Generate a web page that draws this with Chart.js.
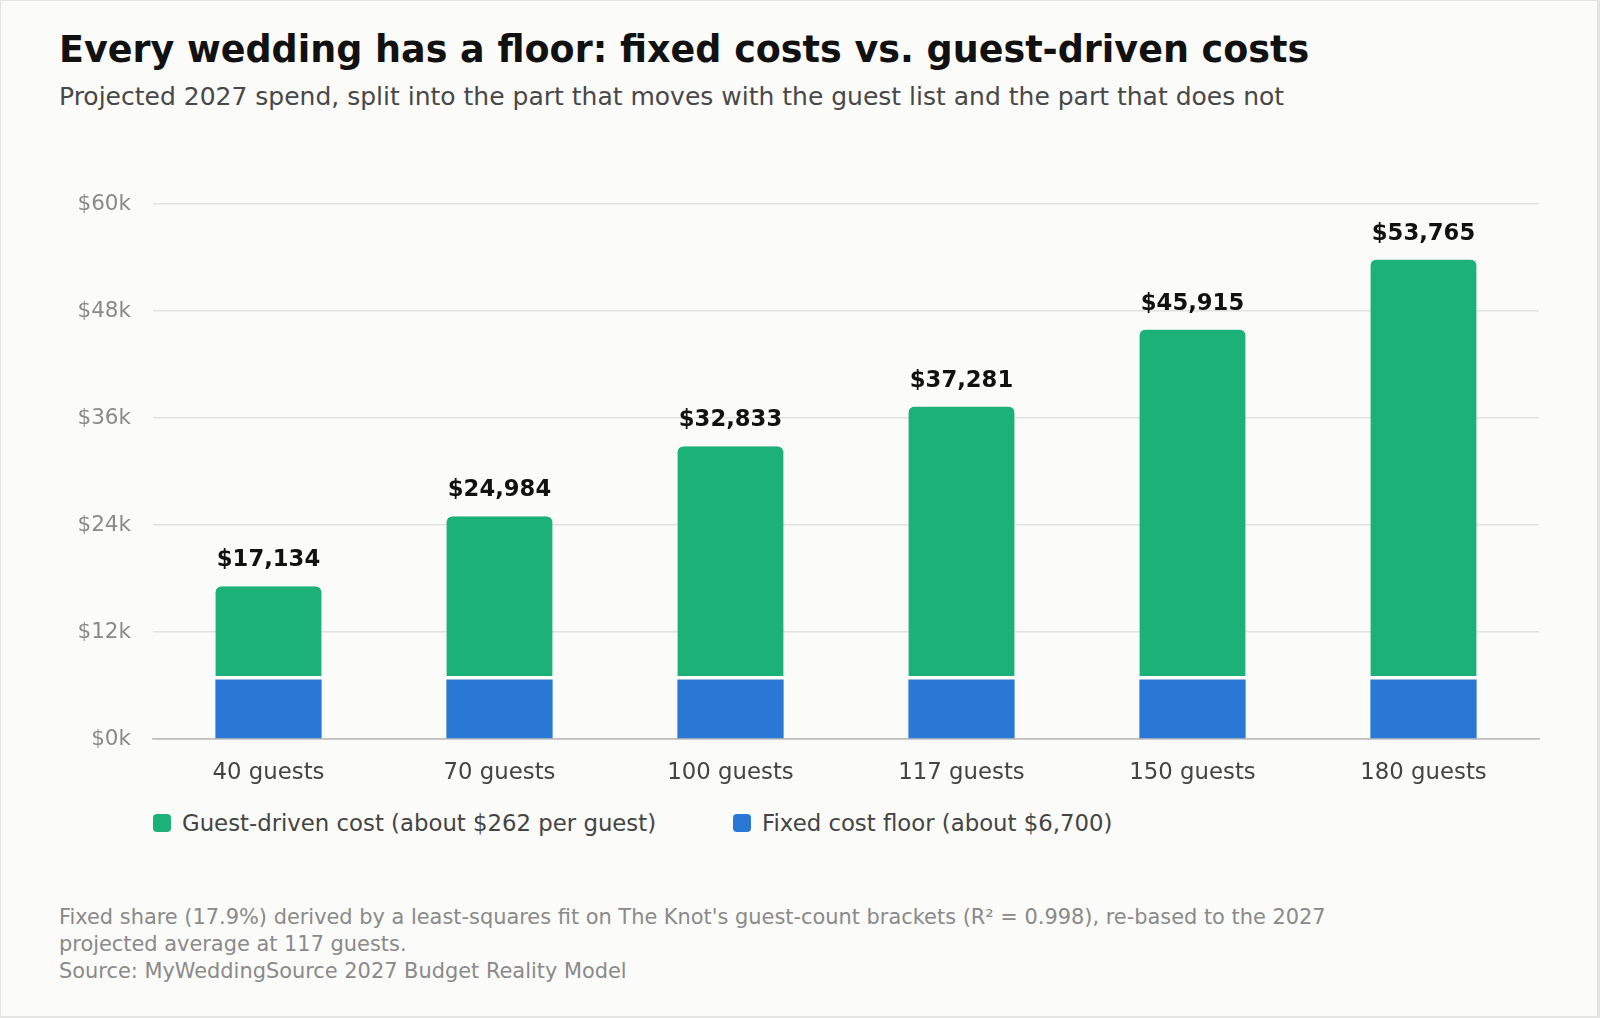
<!DOCTYPE html>
<html>
<head>
<meta charset="utf-8">
<script src="https://cdn.jsdelivr.net/npm/chart.js@4.4.1/dist/chart.umd.min.js"></script>
<style>
  html, body { margin: 0; padding: 0; }
  body { width: 1600px; height: 1018px; background: #e4e4e2; font-family: "DejaVu Sans", sans-serif; overflow: hidden; }
  .card { position: absolute; left: 1px; top: 1px; width: 1596px; height: 1015px; background: #fbfbf9; }
  .title { position: absolute; left: 58px; top: 27px; font-size: 36.5px; font-weight: bold; color: #111; white-space: nowrap; }
  .subtitle { position: absolute; left: 58px; top: 81px; font-size: 25px; color: #484848; white-space: nowrap; }
  .chart-box { position: absolute; left: 0; top: 150px; width: 1600px; height: 650px; }
  .legend { position: absolute; left: 152px; top: 809px; display: flex; font-size: 22.8px; color: #444; }
  .legend-item { display: flex; align-items: center; margin-right: 77px; }
  .legend-item span.box { width: 18px; height: 18px; border-radius: 4px; margin-right: 11px; }
  .note { position: absolute; left: 58px; top: 903px; font-size: 20.9px; line-height: 27px; color: #8a8a8a; white-space: nowrap; }
</style>
</head>
<body>
<div class="card">
  <div class="title">Every wedding has a floor: fixed costs vs. guest-driven costs</div>
  <div class="subtitle">Projected 2027 spend, split into the part that moves with the guest list and the part that does not</div>
  <div class="chart-box"><canvas id="costChart" width="1600" height="650"></canvas></div>
  <div class="legend" id="legend"></div>
  <div class="note">Fixed share (17.9%) derived by a least-squares fit on The Knot's guest-count brackets (R² = 0.998), re-based to the 2027<br>projected average at 117 guests.<br>Source: MyWeddingSource 2027 Budget Reality Model</div>
</div>
<script>
// Chart data
const guestLabels = ['40 guests', '70 guests', '100 guests', '117 guests', '150 guests', '180 guests'];
const fixedCost = [6673, 6673, 6673, 6673, 6673, 6673];
const guestCost = [10461, 18311, 26160, 30608, 39242, 47092];
const totalCost = [17134, 24984, 32833, 37281, 45915, 53765];
const yTicks = [0, 12000, 24000, 36000, 48000, 60000];

const GREEN = '#1db17a';
const BLUE = '#2a78d6';

// Draw the total above each stack
const totalLabels = {
    id: 'totalLabels',
    afterDatasetsDraw(chart) {
        const ctx = chart.ctx;
        const xScale = chart.scales.x;
        const yScale = chart.scales.y;
        ctx.save();
        ctx.font = 'bold 22.7px "DejaVu Sans"';
        ctx.fillStyle = '#111';
        ctx.textAlign = 'center';
        ctx.textBaseline = 'alphabetic';
        totalCost.forEach((v, i) => {
            const x = xScale.getPixelForValue(i);
            const y = yScale.getPixelForValue(v);
            ctx.fillText('$' + v.toLocaleString('en-US'), x, y - 20);
        });
        ctx.restore();
    }
};

document.addEventListener('DOMContentLoaded', function() {
    const ctx = document.getElementById('costChart').getContext('2d');

    const chart = new Chart(ctx, {
        type: 'bar',
        data: {
            labels: guestLabels,
            datasets: [{
                label: 'Fixed cost floor (about $6,700)',
                data: fixedCost,
                backgroundColor: BLUE,
                borderWidth: 0,
                barPercentage: 0.46,
                categoryPercentage: 1
            }, {
                label: 'Guest-driven cost (about $262 per guest)',
                data: guestCost,
                backgroundColor: GREEN,
                borderColor: '#ffffff',
                borderWidth: { top: 0, bottom: 3.5, left: 0, right: 0 },
                borderSkipped: false,
                borderRadius: { topLeft: 6, topRight: 6, bottomLeft: 0, bottomRight: 0 },
                barPercentage: 0.46,
                categoryPercentage: 1
            }]
        },
        options: {
            responsive: false,
            animation: false,
            layout: { padding: { top: 53, right: 62, bottom: 0, left: 0 } },
            plugins: {
                legend: { display: false },
                tooltip: { enabled: false }
            },
            scales: {
                x: {
                    stacked: true,
                    grid: { display: false, drawTicks: false },
                    border: { color: '#bdbdbb', width: 1.5 },
                    ticks: { color: '#444', font: { family: 'DejaVu Sans', size: 22.8 }, padding: 20 },
                    afterFit(scale) { scale.height = 62; }
                },
                y: {
                    stacked: true,
                    min: 0,
                    max: 60000,
                    afterBuildTicks(scale) { scale.ticks = yTicks.map(v => ({ value: v })); },
                    grid: {
                        drawTicks: false,
                        color: c => c.tick && c.tick.value === 0 ? '#bdbdbb' : '#e2e2e0',
                        lineWidth: 1.5
                    },
                    border: { display: false },
                    ticks: {
                        color: '#8a8a8a',
                        font: { family: 'DejaVu Sans', size: 21.5 },
                        padding: 22,
                        callback: v => '$' + (v / 1000) + 'k'
                    },
                    afterFit(scale) { scale.width = 152; }
                }
            }
        },
        plugins: [totalLabels]
    });

    // HTML legend, guest-driven first
    const legend = document.getElementById('legend');
    chart.data.datasets.slice().reverse().forEach(ds => {
        const item = document.createElement('div');
        item.className = 'legend-item';
        item.innerHTML = '<span class="box" style="background:' + ds.backgroundColor + '"></span>' + ds.label;
        legend.appendChild(item);
    });
});
</script>
</body>
</html>
